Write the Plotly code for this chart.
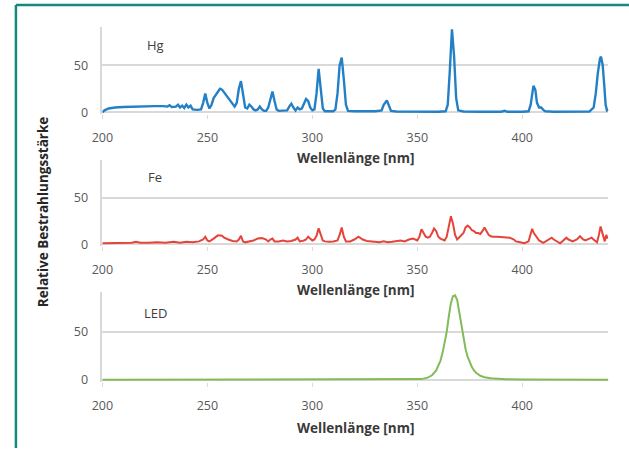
import plotly.graph_objects as go

# ---------------- data ----------------
hg_nm = [200, 201, 203, 206, 210, 215, 220, 225, 229, 231, 232, 233, 235, 236, 237, 238, 239, 240, 241, 242, 243, 245,
         247, 248, 249, 250, 251, 252, 253, 254, 255, 256, 257, 258, 259, 260, 261, 262, 263, 264, 265, 266, 267, 268,
         269, 270, 271, 272, 273, 274, 275, 276, 277, 278, 279, 280, 281, 282, 283, 284, 286, 288, 289, 290, 291, 292,
         293, 294, 295, 296, 297, 298, 299, 300, 301, 302, 303, 304, 305, 306, 308, 310, 311, 312, 313, 314, 315, 316,
         317, 320, 325, 330, 333, 334, 335.5, 336.5, 337.5, 340, 350, 360, 363.5, 364.5, 365.5, 366.5, 367.5, 368.5,
         369.5, 372, 380, 390, 391.6, 393, 400, 403, 404, 405.3, 406.2, 407, 408, 409, 410, 411, 415, 425, 432, 434,
         435, 436, 437, 437.5, 438.3, 439, 439.7, 440.3, 441]
hg_val = [0, 2, 4, 5, 5.5, 6, 6.3, 6.5, 6.5, 6, 7.5, 5.5, 6, 8, 5, 7, 4.5, 8, 5, 7, 3, 2.5,
          3, 10, 20, 10, 4, 8, 15, 18, 22, 25, 24, 21, 17, 14, 11, 8, 6, 10, 25, 33, 18, 5,
          4, 8, 6, 3, 2, 3, 6, 3, 1.5, 1.5, 5, 15, 22, 12, 3, 1.5, 1.5, 2, 6, 9, 5, 2,
          5, 3, 4, 9, 14, 12, 5, 2, 3, 20, 46, 25, 4, 1, 1, 1, 3, 20, 50, 58, 35, 8,
          1.5, 1, 1, 1, 2, 8, 12.5, 7, 1.5, 0.8, 0.5, 0.5, 1, 8, 45, 88, 60, 15,
          2, 0.8, 0.5, 0.5, 1.5, 0.5, 0.5, 1, 8, 28, 24, 10, 5, 5, 2.5, 1, 0.5, 0.5, 0.8, 5,
          20, 42, 57, 59, 50, 30, 8, 2, 3]

fe_nm = [200, 205, 210, 214, 216, 218, 222, 226, 230, 234, 237, 240, 243, 246, 248, 249, 250, 251, 253, 255, 257, 258,
         260, 262, 264, 265, 266, 267, 268, 270, 272, 274, 276, 278, 279, 280, 281, 282, 284, 286, 288, 290, 292, 293,
         294, 296, 297, 298, 299, 300, 301, 302, 303, 304, 305, 306, 308, 310, 312, 313, 314, 315, 316, 318, 320, 322,
         324, 326, 328, 330, 332, 334, 336, 338, 340, 342, 344, 346, 348, 350, 351, 352, 353, 354, 355, 356, 357, 358,
         359, 360, 361, 362, 363, 364, 365, 366, 367, 368, 369, 370, 371, 372, 373, 374, 375, 376, 377, 378, 379, 380,
         381, 382, 383, 384, 385, 386, 388, 390, 392, 394, 396, 397, 399, 401, 403, 404, 404.7, 405.5, 406.5, 408, 410,
         412, 414, 415, 417, 418, 419, 421, 422, 424, 426, 427.5, 429, 430, 432, 433, 434.5, 435.6, 436.5, 437.3, 438.4,
         439.3, 440, 440.6]
fe_val = [1, 1, 1.5, 1.5, 2.5, 1.5, 1.5, 2, 1.5, 2.5, 1.5, 2.5, 2, 3, 5, 8, 4, 3, 6, 9.5, 9, 7,
          5, 3.5, 3, 5, 9, 3, 2, 3, 4, 6, 6.5, 5, 3, 5, 6, 3, 3, 4, 3, 3.5, 5, 7,
          3, 4, 5, 8, 6, 4, 5, 9, 17, 10, 4, 3, 2.5, 3, 4, 10, 18, 8, 3, 3, 5, 8,
          5, 3.5, 3, 2.5, 2, 3, 2, 2.5, 3, 4, 3, 5, 6, 4, 8, 16, 12, 8, 7, 8, 12, 17,
          14, 8, 6, 5, 4, 8, 18, 30, 22, 10, 5, 7, 9, 12, 18, 20, 18, 15, 14, 12, 12, 11,
          14, 18, 14, 10, 8.5, 8, 8, 7.5, 7, 7, 5, 3, 2, 1, 3, 10, 16.5, 12, 9, 4, 1.5,
          4, 7, 5, 2, 1, 3, 7, 5, 3, 5, 8.5, 5, 4, 6, 7, 4, 2, 10, 19, 10,
          3, 10, 6]

led_nm = [200, 250, 300, 340, 348, 352, 355, 357, 359, 361, 362, 363, 364, 365, 366, 367, 368, 369, 370, 371, 372,
          373, 374, 375, 376, 377, 378, 380, 382, 385, 388, 392, 400, 420, 441]
led_val = [0.3, 0.3, 0.3, 0.3, 0.5, 1, 2.5, 5, 10, 20, 28, 38, 50, 66, 80, 87, 88, 83, 70, 55, 42,
           32, 24, 18, 13.5, 10, 7.5, 4.5, 3, 1.8, 1.2, 0.8, 0.5, 0.4, 0.4]

panel_names = ["Hg", "Fe", "LED"]
x_ticks = [200, 250, 300, 350, 400]
y_ticks = [0, 50]
x_title = "Wellenlänge [nm]"
y_title = "Relative Bestrahlungsstärke"

# ---------------- layout helpers ----------------
W, H = 629, 455
def px(x):
    return x / W
def py(y):
    return 1 - y / H

series = [(hg_nm, hg_val, "#2480c6", 2.4), (fe_nm, fe_val, "#e5443a", 2.0), (led_nm, led_val, "#82bb58", 2.0)]
# pixel rows: (top of plot, zero line, label y, title y)
rows = [(27, 114, 46, 160), (162, 248, 180, 295), (297, 386, 318, 435)]
YMIN, YMAX = -1.5, 91

fig = go.Figure()
font_main = "Open Sans, Arial, sans-serif"

for i, ((xs, ys, col, lw), (top, zero, lab_y, tit_y)) in enumerate(zip(series, rows)):
    k = "" if i == 0 else str(i + 1)
    fig.add_trace(go.Scatter(x=xs, y=ys, mode="lines", line=dict(color=col, width=lw),
                             xaxis="x" + k, yaxis="y" + k, showlegend=False, hoverinfo="skip"))
    scale = (zero - top) / YMAX
    bottom = zero + (-YMIN) * scale
    fig.layout["xaxis" + k] = dict(domain=[px(93), px(608)], range=[200, 441], anchor="y" + k,
                                   tickvals=x_ticks, showgrid=False, zeroline=False, showline=False,
                                   ticks="outside", ticklen=4, tickcolor="#d9d9d9", ticklabelstandoff=8,
                                   tickfont=dict(family=font_main, size=12.5, color="#595959"))
    fig.layout["yaxis" + k] = dict(domain=[py(bottom), py(top)], range=[YMIN, YMAX], anchor="x" + k,
                                   tickvals=y_ticks, showgrid=True, gridcolor="#d9d9d9", gridwidth=1.6,
                                   zeroline=False, showline=True, linecolor="#d9d9d9", linewidth=1.5,
                                   ticks="", ticklabelstandoff=10,
                                   tickfont=dict(family=font_main, size=12.5, color="#595959"))
    fig.add_annotation(x=px(147), y=py(lab_y), xref="paper", yref="paper", text=panel_names[i],
                       showarrow=False, xanchor="center", yanchor="middle",
                       font=dict(family=font_main, size=13, color="#404040"))
    fig.add_annotation(x=px(351), y=py(tit_y), xref="paper", yref="paper", text="<b>" + x_title + "</b>",
                       showarrow=False, xanchor="center", yanchor="middle",
                       font=dict(family=font_main, size=13.5, color="#3a3a3a"))

fig.add_annotation(x=px(32), y=py(215), xref="paper", yref="paper", text="<b>" + y_title + "</b>",
                   showarrow=False, xanchor="center", yanchor="middle", textangle=-90,
                   font=dict(family=font_main, size=13.5, color="#262626"))

# teal frame (top and left edges)
fig.add_shape(type="line", xref="paper", yref="paper", x0=px(5), x1=1.0, y0=py(5), y1=py(5),
              line=dict(color="#16897f", width=2.5))
fig.add_shape(type="line", xref="paper", yref="paper", x0=px(5), x1=px(5), y0=py(5), y1=0,
              line=dict(color="#16897f", width=2.5))

fig.update_layout(width=W, height=H, margin=dict(l=0, r=0, t=0, b=0),
                  paper_bgcolor="white", plot_bgcolor="white")

fig.write_html("out.html", config={"displayModeBar": False},
               post_script="document.body.style.margin='0';document.body.style.padding='0';"
                           "document.body.style.overflow='hidden';"
                           "document.documentElement.style.overflow='hidden';")
